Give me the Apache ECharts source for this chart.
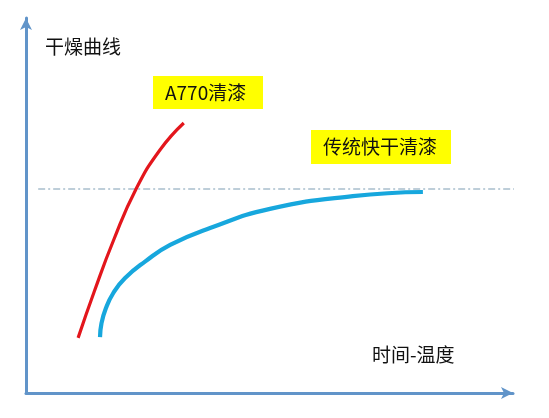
<!DOCTYPE html>
<html><head><meta charset="utf-8">
<script src="https://cdn.jsdelivr.net/npm/echarts@6/dist/echarts.min.js"></script>
<style>html,body{margin:0;padding:0;background:#fff}#c{width:549px;height:418px}</style>
</head><body><div id="c"></div>
<script>
// arbitrary units: x 0..100, y 0..100
const redName = 'A770清漆';
const blueName = '传统快干清漆';
const yTitle = '干燥曲线';
const xTitle = '时间-温度';
const redX = [10.7, 14.0, 18.0, 22.6, 27.5, 32.4];
const redY = [14.7, 27.0, 40.8, 54.4, 64.8, 72.0];
const blueX = [15.2, 15.5, 16.4, 17.9, 20.3, 24.5, 29.6, 37.8, 50.1, 67.1, 81.5];
const blueY = [14.9, 18.6, 22.6, 26.6, 30.6, 35.1, 39.5, 44.0, 49.1, 52.5, 53.6];
const refX = [2.5, 100.8];
const refY = [54.4, 54.4];

const zip = (a, b) => a.map((v, i) => [v, b[i]]);
const font = '"Noto Sans CJK SC", sans-serif';
const chart = echarts.init(document.getElementById('c'), null, {renderer: 'canvas'});
const axisCol = '#6194c9';
function labelBox(x, y, w, h, text, tx) {
  return {
    type: 'group', left: x, top: y,
    children: [
      {type: 'rect', shape: {x: 0, y: 0, width: w, height: h}, style: {fill: '#ffff00'}},
      {type: 'text', style: {text: text, x: tx, y: h / 2, verticalAlign: 'middle', font: '19px ' + font, fill: '#111'}}
    ]
  };
}
chart.setOption({
  animation: false,
  grid: {left: 26, right: 36, top: 18, bottom: 25, containLabel: false},
  xAxis: {
    type: 'value', min: 0, max: 100,
    axisLine: {show: true, symbol: ['none', 'arrow'], symbolSize: [9, 12], lineStyle: {color: axisCol, width: 3}},
    axisTick: {show: false}, axisLabel: {show: false}, splitLine: {show: false}
  },
  yAxis: {
    type: 'value', min: 0, max: 100,
    axisLine: {show: true, symbol: ['none', 'arrow'], symbolSize: [9, 12], lineStyle: {color: axisCol, width: 3}},
    axisTick: {show: false}, axisLabel: {show: false}, splitLine: {show: false}
  },
  series: [
    {type: 'line', data: zip(refX, refY), showSymbol: false, clip: false, silent: true,
     lineStyle: {color: '#7d9db3', width: 1, type: [7, 3, 2, 3]}},
    {type: 'line', name: redName, data: zip(redX, redY), smooth: 0.5, showSymbol: false,
     lineStyle: {color: '#e3161c', width: 3.2, cap: 'butt'}},
    {type: 'line', name: blueName, data: zip(blueX, blueY), smooth: 0.5, showSymbol: false,
     lineStyle: {color: '#17a7dd', width: 4.2, cap: 'butt'}}
  ],
  graphic: [
    {type: 'text', left: 45, top: 37, style: {text: yTitle, font: '19px ' + font, fill: '#111'}},
    {type: 'text', left: 372, top: 345, style: {text: xTitle, font: '19px ' + font, fill: '#111'}},
    labelBox(153, 76, 110, 33, redName, 12),
    labelBox(311, 130, 140, 34, blueName, 12)
  ]
});
</script></body></html>
